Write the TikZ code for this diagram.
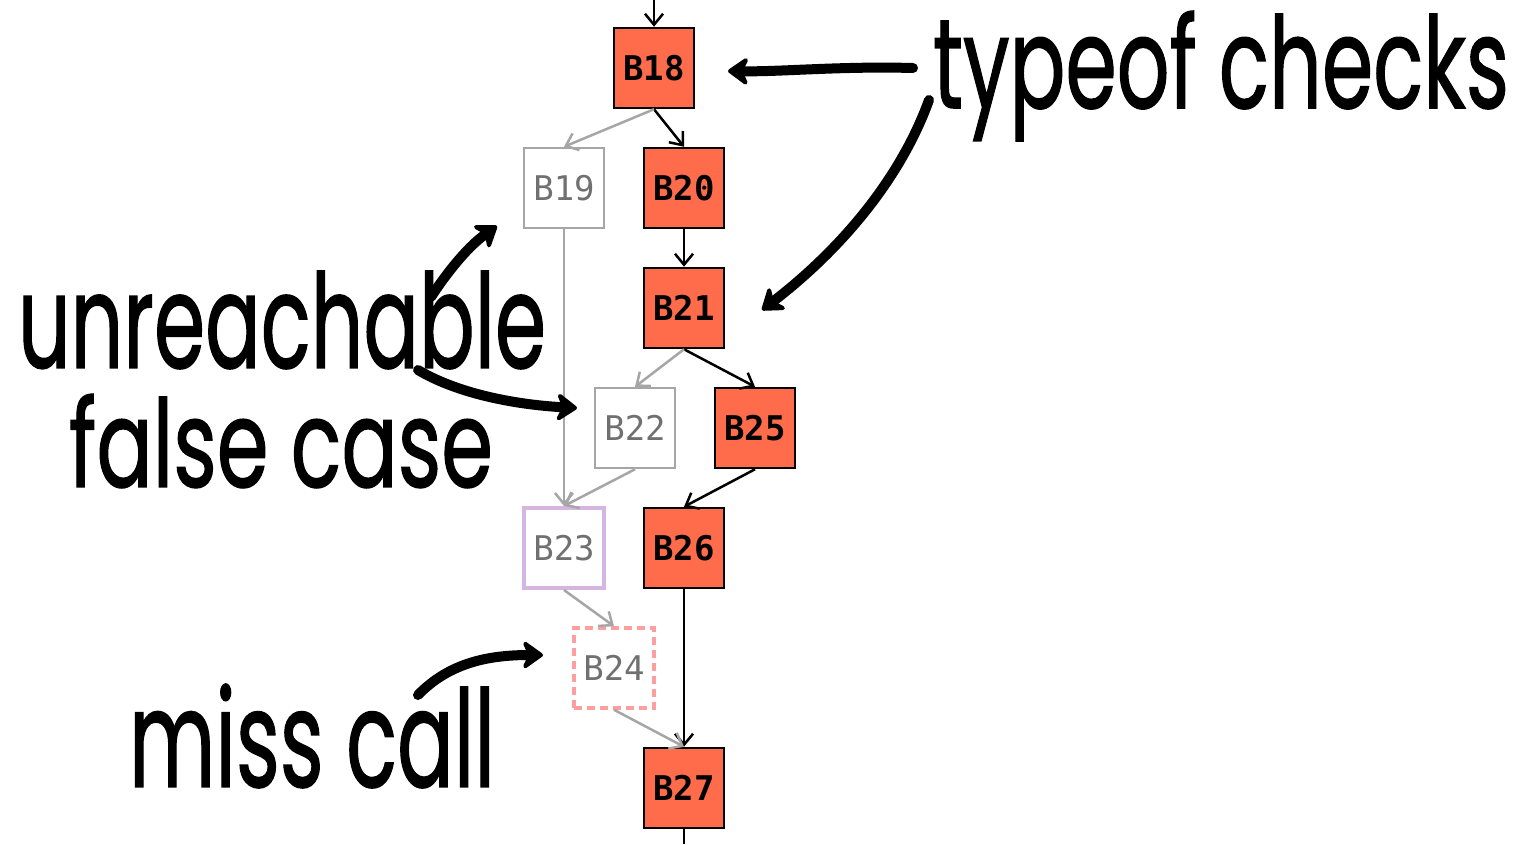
\documentclass[tikz,border=0pt]{standalone}
\usepackage{fontspec}
\usepackage{graphicx}
\usetikzlibrary{arrows.meta}
\newfontfamily\boxfont{DejaVu Sans Mono}
\newfontfamily\handfont[FakeBold=1.2]{Poppins}
\definecolor{hotfill}{HTML}{FF6C4C}
\definecolor{deadgray}{HTML}{A6A6A6}
\definecolor{deadtext}{HTML}{707070}
\definecolor{guardline}{HTML}{D4B6E0}
\definecolor{missline}{HTML}{FF9E9E}
\begin{document}
\begin{tikzpicture}[x=1pt,y=-1pt,
        blk/.style={rectangle, minimum size=80pt, inner sep=0pt,
                        font=\boxfont\fontsize{34}{34}\selectfont},
        hot/.style={blk, draw=black, line width=2.5pt, fill=hotfill,
                        font=\boxfont\bfseries\fontsize{34}{34}\selectfont},
        cold/.style={blk, draw=deadgray, line width=2.5pt, fill=white,
                        text=deadtext},
        guard/.style={cold, draw=guardline, line width=4pt},
        missed/.style={cold, draw=missline, line width=3.5pt,
                        dash pattern=on 8pt off 5pt},
        live/.style={line width=2.5pt, -{Straight Barb[length=11pt,width=18pt]}},
        dead/.style={live, draw=deadgray},
        note/.style={inner sep=0pt, font=\handfont},
        pen/.style={line width=10pt, line cap=round, line join=round,
                        -{Stealth[length=24pt,width=34pt,round]}}]
    \useasboundingbox (0,0) rectangle (1530,844);
    % blocks
    \foreach \n/\x/\y/\s in {B18/654/68/hot, B19/564/188/cold, B20/684/188/hot,
            B21/684/308/hot, B22/635/428/cold, B25/755/428/hot,
            B23/564/548/guard, B26/684/548/hot, B24/614/668/missed,
            B27/684/788/hot}
        \node[\s] (\n) at (\x,\y) {\n};
    \coordinate (entry) at (654,0);
    \coordinate (exit) at (684,844);
    % control flow
    \draw[live] (entry) -- (B18.north);
    \foreach \a/\b in {B18/B20, B20/B21, B21/B25, B25/B26, B26/B27}
        \draw[live] (\a.south) -- (\b.north);
    \foreach \a/\b in {B18/B19, B19/B23, B21/B22, B22/B23, B23/B24, B24/B27}
        \draw[dead] (\a.south) -- (\b.north);
    \draw[line width=2.5pt] (B27.south) -- (exit);
    % annotations
    \node[note] (typeof) at (1221,76)
        {\resizebox*{576pt}{130pt}{typeof checks}};
    \node[note] (unreach) at (282,320)
        {\resizebox*{528pt}{98pt}{unreachable}};
    \node[note] (falsecase) at (281,441)
        {\resizebox*{424pt}{94pt}{false case}};
    \node[note] (misscall) at (312,736)
        {\resizebox*{366pt}{104pt}{miss call}};
    \coordinate (t1) at (913,68);
    \coordinate (t2) at (929,100);
    \coordinate (u1) at (431,297);
    \coordinate (u2) at (418,370);
    \coordinate (m1) at (418,695);
    \draw[pen] (t1) .. controls (840,66) and (780,72) .. (728,71);
    \draw[pen] (t2) .. controls (900,180) and (840,250) .. (762,310);
    \draw[pen] (u1) .. controls (450,268) and (470,245) .. (497,226);
    \draw[pen] (u2) .. controls (460,395) and (520,405) .. (577,408);
    \draw[pen] (m1) .. controls (450,662) and (490,655) .. (543,655);
\end{tikzpicture}
\end{document}
